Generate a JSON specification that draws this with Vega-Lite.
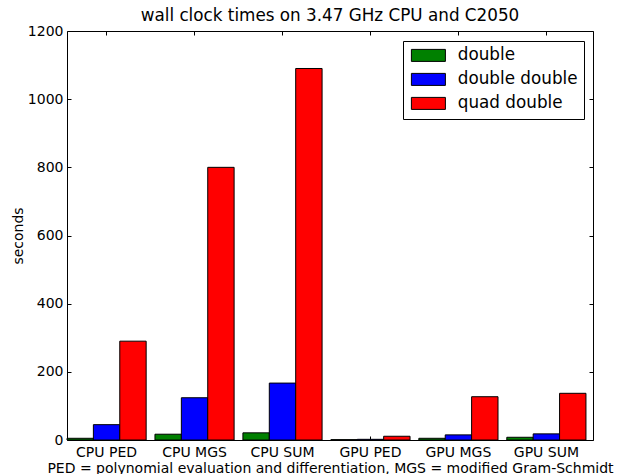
{
  "$schema": "https://vega.github.io/schema/vega-lite/v6.json",
  "width": 526,
  "height": 409,
  "autosize": {"type": "none"},
  "padding": {"left": 67, "top": 31, "right": 25, "bottom": 34},
  "background": "white",
  "title": {"text": "wall clock times on 3.47 GHz CPU and C2050", "font": "DejaVu Sans", "fontSize": 16.8, "fontWeight": "normal", "color": "black", "anchor": "middle", "offset": -1},
  "config": {
    "font": "DejaVu Sans",
    "view": {"stroke": "black", "strokeWidth": 1},
    "axis": {"domain": false, "grid": false, "labelFont": "DejaVu Sans", "labelFontSize": 14, "labelColor": "black", "tickColor": "black", "titleFont": "DejaVu Sans", "titleFontWeight": "normal", "titleColor": "black", "tickSize": -4, "tickWidth": 1}
  },
  "data": {"values": [
    {"cat": "CPU PED", "prec": "double", "sec": 5},
    {"cat": "CPU PED", "prec": "double double", "sec": 45},
    {"cat": "CPU PED", "prec": "quad double", "sec": 290},
    {"cat": "CPU MGS", "prec": "double", "sec": 17},
    {"cat": "CPU MGS", "prec": "double double", "sec": 124},
    {"cat": "CPU MGS", "prec": "quad double", "sec": 800},
    {"cat": "CPU SUM", "prec": "double", "sec": 21},
    {"cat": "CPU SUM", "prec": "double double", "sec": 167},
    {"cat": "CPU SUM", "prec": "quad double", "sec": 1090},
    {"cat": "GPU PED", "prec": "double", "sec": 1},
    {"cat": "GPU PED", "prec": "double double", "sec": 2},
    {"cat": "GPU PED", "prec": "quad double", "sec": 11},
    {"cat": "GPU MGS", "prec": "double", "sec": 5},
    {"cat": "GPU MGS", "prec": "double double", "sec": 15},
    {"cat": "GPU MGS", "prec": "quad double", "sec": 127},
    {"cat": "GPU SUM", "prec": "double", "sec": 8},
    {"cat": "GPU SUM", "prec": "double double", "sec": 18},
    {"cat": "GPU SUM", "prec": "quad double", "sec": 137}
  ]},
  "layer": [
    {
      "mark": {"type": "bar", "stroke": "black", "strokeWidth": 1},
      "encoding": {
        "x": {"field": "cat", "type": "nominal", "sort": null,
              "scale": {"paddingInner": 0.1, "paddingOuter": 0.04, "align": 0},
              "axis": {"orient": "bottom", "labelAngle": 0, "labelPadding": 9, "title": "PED = polynomial evaluation and differentiation, MGS = modified Gram-Schmidt", "titleFontSize": 14, "titlePadding": 2}},
        "xOffset": {"field": "prec", "type": "nominal", "scale": {"paddingInner": 0, "paddingOuter": 0}},
        "y": {"field": "sec", "type": "quantitative",
              "scale": {"domain": [0, 1200], "nice": false},
              "axis": {"orient": "left", "values": [0, 200, 400, 600, 800, 1000, 1200], "format": "d", "labelPadding": 8, "title": "seconds", "titleFontSize": 14, "titlePadding": 2}},
        "color": {"field": "prec", "type": "nominal",
                  "scale": {"domain": ["double", "double double", "quad double"], "range": ["#008000", "#0000ff", "#ff0000"]},
                  "legend": {"orient": "none", "legendX": 336, "legendY": 10, "title": null, "strokeColor": "black", "fillColor": "white", "padding": 6, "labelFont": "DejaVu Sans", "labelFontSize": 16.8, "labelColor": "black", "labelOffset": 21, "symbolOffset": 11, "rowPadding": 6, "symbolType": "M-2.833,-1L2.833,-1L2.833,1L-2.833,1Z", "symbolSize": 144, "symbolStrokeColor": "black", "symbolStrokeWidth": 1, "symbolOpacity": 1}}
      }
    },
    {
      "mark": {"type": "point", "opacity": 0},
      "encoding": {
        "x": {"field": "cat", "type": "nominal", "sort": null, "axis": {"orient": "top", "labels": false, "title": null}},
        "y": {"field": "sec", "type": "quantitative", "axis": {"orient": "right", "values": [0, 200, 400, 600, 800, 1000, 1200], "labels": false, "title": null}}
      }
    }
  ],
  "resolve": {"axis": {"x": "independent", "y": "independent"}}
}
